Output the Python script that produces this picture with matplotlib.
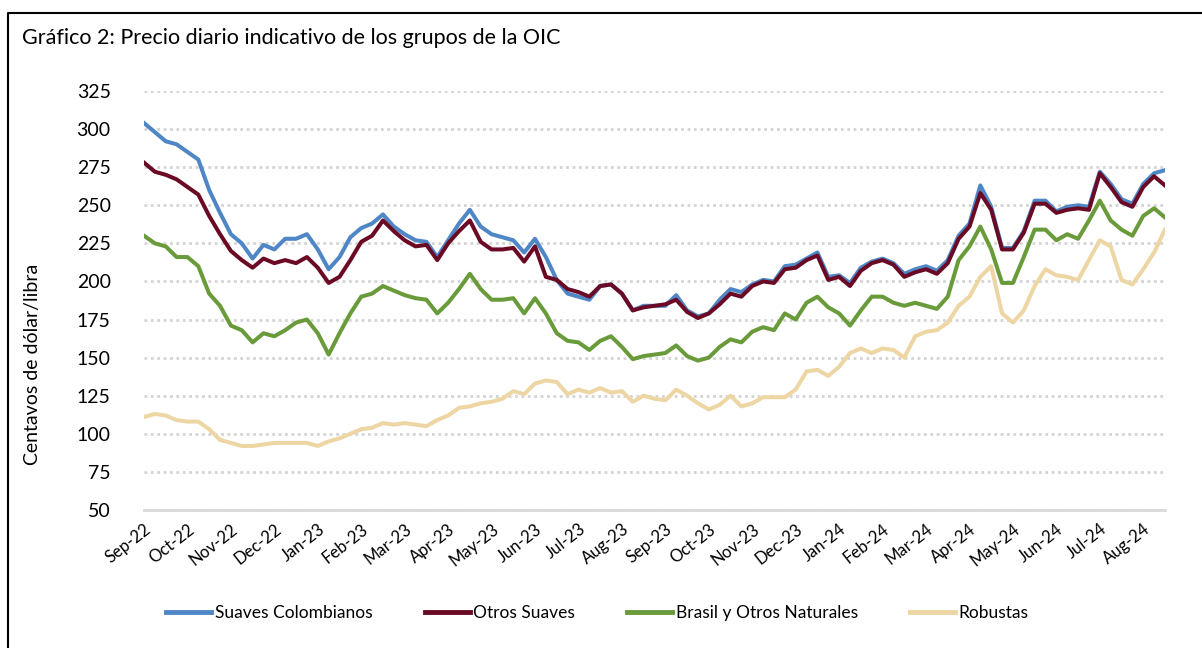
import numpy as np
import matplotlib
matplotlib.use("Agg")
import matplotlib.pyplot as plt
from matplotlib.lines import Line2D

plt.rcParams['font.family'] = ['Lato', 'DejaVu Sans']

# etiquetas de mes (una por mes, desde Sep-22)
meses = ['Sep-22', 'Oct-22', 'Nov-22', 'Dec-22', 'Jan-23', 'Feb-23', 'Mar-23',
         'Apr-23', 'May-23', 'Jun-23', 'Jul-23', 'Aug-23', 'Sep-23', 'Oct-23',
         'Nov-23', 'Dec-23', 'Jan-24', 'Feb-24', 'Mar-24', 'Apr-24', 'May-24',
         'Jun-24', 'Jul-24', 'Aug-24']

# precios aprox. cada cuarto de mes (centavos de dolar/libra)
suaves_col = [304, 298, 292, 290, 285, 280, 260, 245, 231, 225, 215, 224, 221, 228,
              228, 231, 221, 208, 216, 229, 235, 238, 244, 236, 231, 227, 226, 216,
              227, 238, 247, 236, 231, 229, 227, 219, 228, 216, 201, 192, 190, 188,
              197, 198, 192, 181, 184, 184, 184, 191, 181, 177, 179, 188, 195, 193,
              198, 201, 200, 210, 211, 215, 219, 203, 204, 199, 209, 213, 215, 212,
              205, 208, 210, 207, 214, 230, 238, 263, 249, 222, 222, 233, 253, 253,
              246, 249, 250, 249, 272, 264, 254, 251, 264, 271, 273]
otros_suaves = [278, 272, 270, 267, 262, 257, 243, 231, 220, 214, 209, 215, 212, 214,
                212, 216, 209, 199, 203, 214, 226, 230, 240, 233, 227, 223, 224, 214,
                225, 233, 240, 226, 221, 221, 222, 213, 223, 203, 201, 195, 193, 190,
                197, 198, 192, 181, 183, 184, 185, 188, 180, 176, 179, 185, 192, 190,
                197, 200, 199, 208, 209, 214, 217, 201, 203, 197, 207, 212, 214, 211,
                203, 206, 208, 205, 212, 228, 236, 258, 247, 221, 221, 232, 251, 251,
                245, 247, 248, 247, 271, 262, 252, 249, 262, 269, 263]
brasil = [230, 225, 223, 216, 216, 210, 192, 184, 171, 168, 160, 166, 164, 168,
          173, 175, 166, 152, 166, 179, 190, 192, 197, 194, 191, 189, 188, 179,
          186, 195, 205, 195, 188, 188, 189, 179, 189, 179, 166, 161, 160, 155,
          161, 164, 157, 149, 151, 152, 153, 158, 151, 148, 150, 157, 162, 160,
          167, 170, 168, 179, 175, 186, 190, 183, 179, 171, 181, 190, 190, 186,
          184, 186, 184, 182, 190, 214, 223, 236, 221, 199, 199, 216, 234, 234,
          227, 231, 228, 240, 253, 240, 234, 230, 243, 248, 242]
robustas = [111, 113, 112, 109, 108, 108, 103, 96, 94, 92, 92, 93, 94, 94,
            94, 94, 92, 95, 97, 100, 103, 104, 107, 106, 107, 106, 105, 109,
            112, 117, 118, 120, 121, 123, 128, 126, 133, 135, 134, 126, 129, 127,
            130, 127, 128, 121, 125, 123, 122, 129, 125, 120, 116, 119, 125, 118,
            120, 124, 124, 124, 129, 141, 142, 138, 144, 153, 156, 153, 156, 155,
            150, 164, 167, 168, 173, 184, 190, 203, 210, 179, 173, 181, 197, 208,
            204, 203, 201, 214, 227, 223, 201, 198, 208, 219, 234]

series = [('Suaves Colombianos', suaves_col, '#4f86c6'),
          ('Otros Suaves', otros_suaves, '#6b0a24'),
          ('Brasil y Otros Naturales', brasil, '#6a9b3b'),
          ('Robustas', robustas, '#edd6a3')]

t = np.arange(len(suaves_col)) / 4.0   # tiempo en meses desde Sep-22

fig = plt.figure(figsize=(12.02, 6.48), dpi=100)
ax = fig.add_axes([0.1198, 0.213, 0.8494, 0.6466])

for nombre, vals, col in series:
    ax.plot(t, vals, color=col, lw=2.9, label=nombre, solid_joinstyle='round')

ax.set_ylim(50, 325)
ax.set_xlim(0, t[-1])
ax.set_yticks(np.arange(50, 326, 25))
ax.set_xticks(np.arange(len(meses)))
ax.set_xticklabels(meses, rotation=38, ha='right', rotation_mode='anchor', fontsize=12)
ax.tick_params(axis='y', length=0, pad=24, labelsize=14)
ax.tick_params(axis='x', length=0, pad=8)

ax.grid(axis='y', color='#d4d4d4', ls=(0, (1, 1.3)), lw=2)
ax.set_axisbelow(True)
for s in ['top', 'right', 'left']:
    ax.spines[s].set_visible(False)
ax.spines['bottom'].set_color('#d9d9d9')
ax.spines['bottom'].set_linewidth(2)

fig.text(22 / 1202, 1 - 38 / 648, 'Gráfico 2: Precio diario indicativo de los grupos de la OIC',
         fontsize=15.5, va='center', ha='left')
fig.text(33 / 1202, 1 - 364 / 648, 'Centavos de dólar/libra', rotation=90,
         fontsize=14, va='center', ha='center')

leg = fig.legend(loc='center', bbox_to_anchor=(0.497, 1 - 613 / 648), ncol=4,
                 frameon=False, fontsize=12.5, handlelength=2.6, handletextpad=0.2,
                 columnspacing=3.0)
for h in leg.get_lines():
    h.set_linewidth(3.5)

# marco: solo borde superior e izquierdo
x0, y1 = 8 / 1202, 1 - 13 / 648
fig.add_artist(Line2D([x0, x0, 1.0], [0.0, y1, y1], transform=fig.transFigure,
                      color='black', lw=1.5))

fig.savefig('out.png', dpi=100)
